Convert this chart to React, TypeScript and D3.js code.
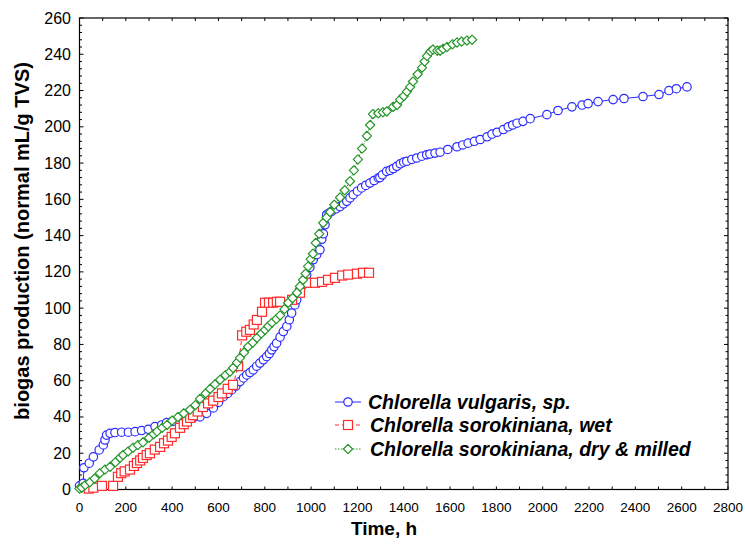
import React from "react";
import * as d3 from "d3";

// ---- data (time in h, biogas in normal mL/g TVS) ----
const vulgarisT = [0, 16, 19, 42, 60, 85, 103, 110, 117, 132, 153, 182, 211, 240, 268, 297, 326, 355, 376, 400, 430, 460, 490, 520, 549, 578, 600, 621, 640, 657, 675, 693, 708, 722, 736, 750, 765, 779, 794, 808, 820, 830, 840, 851, 866, 880, 895, 906, 916, 930, 938, 952, 966, 981, 995, 1009, 1024, 1038, 1046, 1053, 1060, 1067, 1078, 1089, 1107, 1125, 1140, 1154, 1168, 1182, 1200, 1218, 1236, 1254, 1272, 1290, 1297, 1308, 1326, 1341, 1355, 1370, 1385, 1400, 1413, 1435, 1456, 1478, 1499, 1513, 1535, 1557, 1590, 1630, 1655, 1678, 1705, 1730, 1760, 1781, 1803, 1830, 1851, 1870, 1889, 1915, 1946, 2018, 2066, 2126, 2170, 2196, 2239, 2304, 2351, 2433, 2502, 2545, 2577, 2623];
const vulgarisV = [2, 3.4, 12, 14.5, 18, 21.8, 24.6, 27.3, 30, 31, 31.4, 31.6, 31.6, 31.9, 32.5, 33.2, 34.7, 35.6, 36.9, 37.5, 38.5, 39, 39.5, 40, 42, 45, 48, 51.2, 53, 54.9, 57, 59.5, 61.5, 63.2, 64.5, 66, 68, 69.7, 71.5, 73.3, 75, 77, 78.8, 80.7, 84, 87.1, 89.9, 93.6, 97.3, 101.8, 104.6, 108.3, 113, 118.4, 122.5, 126.7, 129.5, 132.2, 138, 141, 146, 151.5, 152.5, 153.4, 154.8, 156, 157.5, 158.9, 160.8, 162.6, 164.5, 166.3, 167.7, 169, 170.4, 171.8, 172, 173.5, 175.4, 176, 177, 178.2, 179.6, 180.5, 181, 182, 182.8, 183.8, 184.6, 185, 185.5, 186, 187.5, 189, 190, 191, 192, 193, 194.5, 196, 197, 198.5, 200, 201, 202, 203, 204.5, 206.7, 209, 211, 212, 212.8, 213.9, 215, 215.6, 216.7, 217.8, 220, 221, 222];

const wetT = [40, 60, 97, 145, 166, 180, 195, 218, 235, 248, 262, 274, 290, 304, 325, 348, 365, 382, 398, 412, 434, 450, 464, 478, 490, 510, 533, 555, 577, 600, 615, 640, 663, 685, 702, 720, 736, 752, 766, 788, 801, 818, 836, 852, 866, 918, 952, 982, 1017, 1047, 1073, 1103, 1134, 1160, 1198, 1224, 1250];
const wetV = [0.5, 1, 2, 2, 7, 9, 10, 11, 13, 14.6, 16, 17.4, 19, 20, 22, 23.5, 25.5, 27, 29, 31, 34, 36, 37.5, 39.5, 41, 43, 45.5, 47.5, 49, 51, 53, 55.5, 57.7, 68, 85, 87, 88, 91, 93.5, 98, 103, 103, 103, 103.5, 103.5, 104.6, 108.5, 114, 114, 114.5, 115.6, 116.7, 118, 118.5, 119, 119.5, 119.5];

const dryT = [0, 10, 25, 45, 65, 88, 110, 132, 155, 175, 188, 210, 231, 252, 274, 300, 320, 335, 357, 378, 400, 425, 450, 477, 500, 520, 545, 564, 585, 607, 630, 650, 663, 680, 693, 710, 728, 748, 766, 785, 801, 815, 831, 850, 866, 885, 901, 920, 939, 952, 965, 976, 987, 998, 1008, 1020, 1035, 1052, 1067, 1082, 1100, 1125, 1145, 1168, 1185, 1202, 1220, 1241, 1255, 1267, 1290, 1310, 1327, 1354, 1371, 1384, 1400, 1414, 1428, 1440, 1460, 1479, 1490, 1500, 1515, 1526, 1545, 1557, 1570, 1587, 1610, 1630, 1650, 1673, 1695];
const dryV = [0.5, 1, 2.5, 4, 6, 9, 11, 12.5, 15, 17.5, 19, 21, 23, 24.5, 26, 28.5, 30.5, 32, 34, 35.6, 38, 40, 42, 44, 46.5, 50, 53, 55.5, 58, 60.5, 63, 65, 67, 70, 72.6, 75.5, 78.7, 81, 83.6, 86, 88, 90, 92, 94, 96, 99.5, 103, 105.5, 108.5, 112, 115.6, 119, 123, 127, 130, 136, 141, 147, 150, 153, 157, 161, 165, 170, 176, 182, 188, 195, 201, 207, 207.5, 208, 208.5, 211, 212, 215, 217, 219.4, 222, 225, 229, 232.6, 236, 239, 241.5, 242.6, 242, 242, 243, 244, 245.5, 246.5, 247, 247.6, 248];

const seriesNames = [
  "Chlorella vulgaris, sp.",
  "Chlorella sorokiniana, wet",
  "Chlorella sorokiniana, dry & milled",
];

const xTicks = d3.range(0, 2801, 200);
const yTicks = d3.range(0, 261, 20);

const W = 745;
const H = 549;
const L = 79.5, R = 728, T = 18, B = 489.5;
const FONT = "'Liberation Sans', Arial, Helvetica, sans-serif";

const x = d3.scaleLinear().domain([0, 2800]).range([L, R]);
const y = d3.scaleLinear().domain([0, 260]).range([B, T]);

type Pt = [number, number];
const zip = (a: number[], b: number[]): Pt[] => a.map((t, i) => [t, b[i]]);

const series = [
  { name: seriesNames[0], data: zip(vulgarisT, vulgarisV), color: "#2b2bff", dash: "none", marker: "circle" },
  { name: seriesNames[1], data: zip(wetT, wetV), color: "#ff2b2b", dash: "4,3", marker: "square" },
  { name: seriesNames[2], data: zip(dryT, dryV), color: "#25962a", dash: "1.5,1.5", marker: "diamond" },
];

const line = d3.line<Pt>().x((d) => x(d[0])).y((d) => y(d[1]));

function Marker({ kind, cx, cy, color }: { kind: string; cx: number; cy: number; color: string }) {
  if (kind === "circle")
    return <circle cx={cx} cy={cy} r={4.2} fill="white" stroke={color} strokeWidth={1.2} />;
  if (kind === "square")
    return <rect x={cx - 4.5} y={cy - 4.5} width={9} height={9} fill="white" stroke={color} strokeWidth={1.2} />;
  const s = 4.6;
  return (
    <path
      d={`M${cx},${cy - s}L${cx + s},${cy}L${cx},${cy + s}L${cx - s},${cy}Z`}
      fill="white"
      stroke={color}
      strokeWidth={1.2}
      strokeLinejoin="round"
    />
  );
}

export default function App() {
  const xMinor = d3.range(0, 2801, 100);
  const yMinor = d3.range(0, 261, 4);
  const legendRows = [402, 425, 449];
  return (
    <svg
      width={W}
      height={H}
      style={{ position: "absolute", left: 0, top: 0, background: "white" }}
      fontFamily={FONT}
    >
      <rect x={0} y={0} width={W} height={H} fill="white" />
      {/* ticks */}
      <g stroke="#000" strokeWidth={1}>
        {xMinor.map((t) => (
          <g key={"xt" + t}>
            <line x1={x(t)} x2={x(t)} y1={B} y2={B - 3} />
            <line x1={x(t)} x2={x(t)} y1={T} y2={T + 3} />
          </g>
        ))}
        {yMinor.map((v) => (
          <g key={"yt" + v}>
            <line x1={L} x2={L + (v % 20 === 0 ? 4 : 2.5)} y1={y(v)} y2={y(v)} />
            <line x1={R} x2={R - (v % 20 === 0 ? 4 : 2.5)} y1={y(v)} y2={y(v)} />
          </g>
        ))}
      </g>
      <rect x={L} y={T} width={R - L} height={B - T} fill="none" stroke="#000" strokeWidth={1.2} />
      {/* tick labels */}
      {yTicks.map((v) => (
        <text key={"yl" + v} x={71} y={y(v)} textAnchor="end" dominantBaseline="central" fontSize={16}>
          {v}
        </text>
      ))}
      {xTicks.map((t) => (
        <text key={"xl" + t} x={x(t)} y={512} textAnchor="middle" fontSize={13.5}>
          {t}
        </text>
      ))}
      {/* axis titles */}
      <text x={384} y={535} textAnchor="middle" fontSize={19} fontWeight="bold">
        Time, h
      </text>
      <text
        transform="translate(29,241) rotate(-90)"
        textAnchor="middle"
        fontSize={20}
        fontWeight="bold"
      >
        biogas production (normal mL/g TVS)
      </text>
      {/* series */}
      {series.map((s) => (
        <g key={s.name}>
          <path d={line(s.data) || ""} fill="none" stroke={s.color} strokeWidth={1} strokeDasharray={s.dash} />
          {s.data.map((d, i) => (
            <Marker key={i} kind={s.marker} cx={x(d[0])} cy={y(d[1])} color={s.color} />
          ))}
        </g>
      ))}
      {/* legend */}
      {series.map((s, i) => (
        <g key={"lg" + i}>
          <line x1={335} x2={361} y1={legendRows[i]} y2={legendRows[i]} stroke={s.color} strokeWidth={1} strokeDasharray={s.dash} />
          <Marker kind={s.marker} cx={348} cy={legendRows[i]} color={s.color} />
          <text
            x={i === 0 ? 368 : 370}
            y={legendRows[i]}
            dominantBaseline="central"
            fontSize={19.5}
            fontWeight="bold"
            fontStyle="italic"
          >
            {s.name}
          </text>
        </g>
      ))}
    </svg>
  );
}
